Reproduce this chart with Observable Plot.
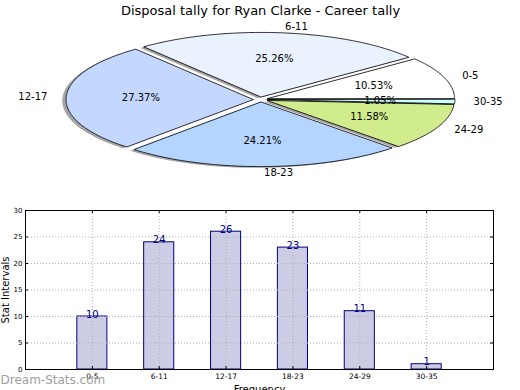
<!DOCTYPE html>
<html>
<head>
<meta charset="utf-8">
<script src="https://cdn.jsdelivr.net/npm/d3@7"></script>
<script src="https://cdn.jsdelivr.net/npm/@observablehq/plot@0.6"></script>
<style>
  html, body { margin: 0; padding: 0; background: #fff; overflow: hidden; }
  #wrap { position: relative; width: 520px; height: 390px; font-family: "DejaVu Sans", sans-serif; }
  #pie { position: absolute; left: 0; top: 0; }
  #bars { position: absolute; left: 0; top: 200px; }
</style>
</head>
<body>
<div id="wrap"><div id="pie"></div><div id="bars"></div></div>
<script>
// ---- data ----
const title = "Disposal tally for Ryan Clarke - Career tally";
const categories = ["0-5", "6-11", "12-17", "18-23", "24-29", "30-35"];
const counts = [10, 24, 26, 23, 11, 1];
const sliceColors = ["#ffffff", "#eaf1ff", "#c4d8ff", "#b3d5ff", "#d0ec8c", "#ccffff"];
const yTicks = [0, 5, 10, 15, 20, 25, 30];
const yLabel = "Stat Intervals";
const xLabel = "Frequency";
const watermark = "Dream-Stats.com";

const font = "DejaVu Sans";

// ---- pie ----
const total = d3.sum(counts);
const explode = 0.04;
let acc = 0;
const slices = counts.map((c, i) => {
  const a0 = acc, a1 = acc + c / total * 2 * Math.PI;
  acc = a1;
  const mid = (a0 + a1) / 2;
  return {cat: categories[i], color: sliceColors[i], count: c, a0, a1, mid,
          cx: explode * Math.cos(mid), cy: explode * Math.sin(mid), pct: c / total * 100};
});
const outline = [];
for (const s of slices) {
  outline.push({cat: s.cat, color: s.color, x: s.cx, y: s.cy});
  const n = Math.max(2, Math.ceil((s.a1 - s.a0) * 180 / Math.PI));
  for (let k = 0; k <= n; k++) {
    const a = s.a0 + (s.a1 - s.a0) * k / n;
    outline.push({cat: s.cat, color: s.color, x: s.cx + Math.cos(a), y: s.cy + Math.sin(a)});
  }
}
const labels = slices.map(s => ({
  cat: s.cat,
  pct: d3.format(".2f")(s.pct) + "%",
  lx: s.cx + 1.1 * Math.cos(s.mid), ly: s.cy + 1.1 * Math.sin(s.mid),
  px: s.cx + 0.6 * Math.cos(s.mid), py: s.cy + 0.6 * Math.sin(s.mid)
}));

const R = 187, RY = 64.5, CX = 260, CY = 99, PH = 200;
const pie = Plot.plot({
  width: 520, height: PH, margin: 0,
  style: {fontFamily: font, background: "transparent"},
  x: {domain: [-CX / R, (520 - CX) / R], range: [0, 520], axis: null},
  y: {domain: [-(PH - CY) / RY, CY / RY], range: [PH, 0], axis: null},
  color: {type: "identity"},
  marks: [
    Plot.line(outline, {x: d => d.x - 0.02, y: d => d.y - 0.02, z: "cat", fill: "#4d4d4d", fillOpacity: 0.5, stroke: "none", curve: "linear-closed"}),
    Plot.line(outline, {x: "x", y: "y", z: "cat", fill: "color", stroke: "#000", strokeWidth: 0.8, curve: "linear-closed"}),
    Plot.text(labels.filter(d => d.lx >= 0), {x: "lx", y: "ly", text: "cat", textAnchor: "start", lineAnchor: "middle", fontSize: 10, fill: "#000"}),
    Plot.text(labels.filter(d => d.lx < 0), {x: "lx", y: "ly", text: "cat", textAnchor: "end", lineAnchor: "middle", fontSize: 10, fill: "#000"}),
    Plot.text(labels, {x: "px", y: "py", text: "pct", textAnchor: "middle", lineAnchor: "middle", fontSize: 10, fill: "#000"}),
    Plot.text([title], {frameAnchor: "top", lineAnchor: "top", dy: 5, fontSize: 13, fill: "#000"})
  ]
});
document.getElementById("pie").appendChild(pie);

// ---- bars ----
const rows = categories.map((c, i) => ({i, cat: c, count: counts[i]}));
const BW = 0.45;
const fw = 520 - 25 - 27, fh = 200 - 10 - 31;
const bars = Plot.plot({
  width: 520, height: 200,
  marginLeft: 25, marginRight: 27, marginTop: 10, marginBottom: 31,
  style: {fontFamily: font, background: "transparent", overflow: "visible"},
  x: {domain: [-1, 6], axis: null},
  y: {domain: [0, 30], axis: null},
  marks: [
    Plot.rectY(rows, {x1: d => d.i - BW / 2, x2: d => d.i + BW / 2, y1: 0, y2: "count", fill: "#ccccE4", stroke: "#000080", strokeWidth: 1}),
    Plot.ruleY(yTicks, {y: d => d, stroke: "#b0b0b0", strokeDasharray: "1,2", strokeWidth: 1}),
    Plot.ruleX(rows, {x: "i", stroke: "#b0b0b0", strokeDasharray: "1,2", strokeWidth: 1}),
    Plot.frame({stroke: "#000", strokeWidth: 1}),
    Plot.tickY(yTicks, {y: d => d, insetRight: fw - 3, stroke: "#000"}),
    Plot.tickY(yTicks, {y: d => d, insetLeft: fw - 3, stroke: "#000"}),
    Plot.tickX(rows, {x: "i", insetTop: fh - 3, stroke: "#000"}),
    Plot.tickX(rows, {x: "i", insetBottom: fh - 3, stroke: "#000"}),
    Plot.text(rows, {x: "i", y: "count", text: d => String(d.count), lineAnchor: "bottom", dy: 1, fontSize: 10, fill: "#000080"}),
    Plot.text(yTicks, {x: -1, y: d => d, text: d => String(d), textAnchor: "end", lineAnchor: "middle", dx: -3, fontSize: 7, fill: "#000"}),
    Plot.text(rows, {x: "i", y: 0, text: "cat", lineAnchor: "top", dy: 4, fontSize: 7.5, fill: "#000"}),
    Plot.text([yLabel], {frameAnchor: "left", dx: -20, rotate: -90, textAnchor: "middle", lineAnchor: "middle", fontSize: 10, fill: "#000"}),
    Plot.text([xLabel], {frameAnchor: "bottom", lineAnchor: "top", dy: 16, fontSize: 10, fill: "#000"}),
    Plot.text([watermark], {frameAnchor: "bottom-left", textAnchor: "start", lineAnchor: "middle", dx: -25, dy: 11, fontSize: 12, fill: "#a0a0a0"})
  ]
});
document.getElementById("bars").appendChild(bars);
</script>
</body>
</html>
